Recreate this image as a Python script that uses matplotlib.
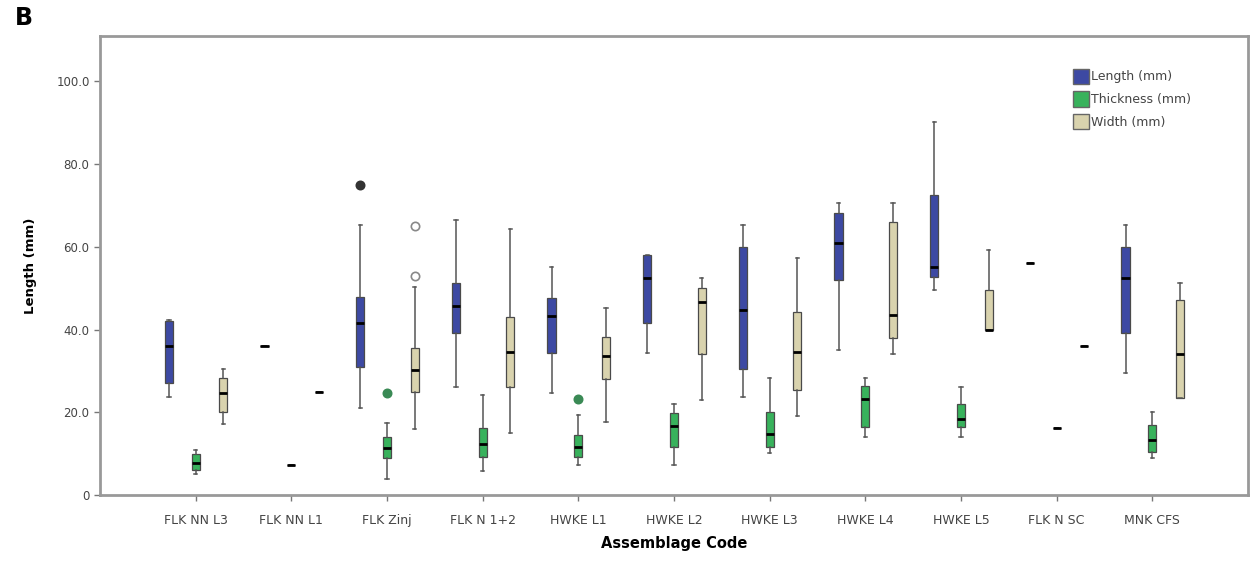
import matplotlib
matplotlib.use("Agg")
import matplotlib.pyplot as plt
from matplotlib.patches import Patch

categories = ["FLK NN L3", "FLK NN L1", "FLK Zinj", "FLK N 1+2", "HWKE L1", "HWKE L2",
              "HWKE L3", "HWKE L4", "HWKE L5", "FLK N SC", "MNK CFS"]

# Length (mm)
len_whislo = [23.7, 36.0, 21.0, 26.0, 24.7, 34.4, 23.7, 35.0, 49.6, 56.1, 29.5]
len_q1     = [27.0, 36.0, 31.0, 39.2, 34.4, 41.6, 30.5, 52.0, 52.8, 56.1, 39.2]
len_med    = [36.0, 36.0, 41.6, 45.8, 43.3, 52.5, 44.7, 61.0, 55.2, 56.1, 52.5]
len_q3     = [42.0, 36.0, 48.0, 51.3, 47.7, 58.0, 60.0, 68.3, 72.6, 56.1, 60.0]
len_whishi = [42.4, 36.0, 65.4, 66.6, 55.2, 58.0, 65.4, 70.5, 90.3, 56.1, 65.4]
len_fliers = [[], [], [75.0], [], [], [], [], [], [], [], []]

# Thickness (mm)
thk_whislo = [5.0, 7.2, 3.9, 5.8, 7.3, 7.3, 10.2, 14.0, 14.0, 16.2, 9.0]
thk_q1     = [6.0, 7.2, 9.0, 9.2, 9.2, 11.6, 11.6, 16.5, 16.5, 16.2, 10.4]
thk_med    = [7.7, 7.2, 11.4, 12.3, 11.6, 16.7, 14.8, 23.2, 18.4, 16.2, 13.3]
thk_q3     = [10.0, 7.2, 14.0, 16.2, 14.5, 19.8, 20.0, 26.4, 22.0, 16.2, 17.0]
thk_whishi = [11.0, 7.2, 17.4, 24.2, 19.4, 22.0, 28.3, 28.3, 26.2, 16.2, 20.0]
thk_fliers = [[], [], [24.7], [], [23.2], [], [], [], [], [], []]

# Width (mm)
wid_whislo = [17.2, 25.0, 16.0, 15.0, 17.7, 23.0, 19.0, 34.1, 40.0, 36.0, 23.5]
wid_q1     = [20.0, 25.0, 25.0, 26.0, 28.0, 34.2, 25.4, 38.0, 40.0, 36.0, 23.5]
wid_med    = [24.7, 25.0, 30.3, 34.6, 33.7, 46.7, 34.6, 43.6, 40.0, 36.0, 34.1]
wid_q3     = [28.3, 25.0, 35.6, 43.0, 38.3, 50.0, 44.3, 66.0, 49.6, 36.0, 47.2]
wid_whishi = [30.5, 25.0, 50.3, 64.4, 45.2, 52.5, 57.4, 70.5, 59.3, 36.0, 51.3]
wid_fliers = [[], [], [65.0, 53.0], [], [], [], [], [], [], [], []]

series_names = ["Length (mm)", "Thickness (mm)", "Width (mm)"]
colors = ["#3D49A3", "#38B25C", "#D9D3AE"]
flier_colors = ["#333333", "#3A8A55", "#888888"]
flier_fill = [True, True, False]

series = [
    (len_whislo, len_q1, len_med, len_q3, len_whishi, len_fliers),
    (thk_whislo, thk_q1, thk_med, thk_q3, thk_whishi, thk_fliers),
    (wid_whislo, wid_q1, wid_med, wid_q3, wid_whishi, wid_fliers),
]
offsets = [-0.28, 0.0, 0.29]

fig = plt.figure(figsize=(12.55, 5.62), dpi=100)
ax = fig.add_axes([0.0797, 0.1192, 0.9147, 0.8168])

for s, (wl, q1, md, q3, wh, fl) in enumerate(series):
    stats = []
    for i in range(len(categories)):
        stats.append(dict(whislo=wl[i], q1=q1[i], med=md[i], q3=q3[i], whishi=wh[i], fliers=fl[i]))
    pos = [i + offsets[s] for i in range(len(categories))]
    fc = flier_colors[s]
    ax.bxp(stats, positions=pos, widths=0.085, patch_artist=True, showfliers=True,
           boxprops=dict(facecolor=colors[s], edgecolor="#4a4a4a", linewidth=0.9),
           medianprops=dict(color="black", linewidth=2.0),
           whiskerprops=dict(color="#555555", linewidth=1.1),
           capprops=dict(color="#555555", linewidth=1.1),
           capwidths=0.035,
           flierprops=dict(marker="o", markersize=6,
                           markerfacecolor=fc if flier_fill[s] else "white",
                           markeredgecolor=fc, markeredgewidth=1.2))

ax.set_xlim(-1, 11)
ax.set_ylim(0, 111)
ax.set_xticks(range(len(categories)))
ax.set_xticklabels(categories, fontsize=9, color="#444444")
ax.set_yticks([0, 20, 40, 60, 80, 100])
ax.set_yticklabels(["0", "20.0", "40.0", "60.0", "80.0", "100.0"], fontsize=8.5, color="#444444")
ax.tick_params(axis="both", direction="out", length=4, width=1, color="#777777")
ax.tick_params(axis="x", pad=10)
for sp in ax.spines.values():
    sp.set_color("#999999")
    sp.set_linewidth(2)

ax.set_xlabel("Assemblage Code", fontsize=10.5, fontweight="bold", labelpad=6)
ax.set_ylabel("Length (mm)", fontsize=9.5, fontweight="bold", labelpad=14)

handles = [Patch(facecolor=colors[k], edgecolor="#666666", label=series_names[k]) for k in range(3)]
leg = ax.legend(handles=handles, loc="upper right", bbox_to_anchor=(0.955, 0.94),
                frameon=False, fontsize=9, handlelength=1.3, handleheight=1.5,
                handletextpad=0.15, labelspacing=0.6, borderaxespad=0)
for t in leg.get_texts():
    t.set_color("#444444")

fig.text(0.012, 0.955, "B", fontsize=17, fontweight="bold")

fig.savefig("out.png", dpi=100)
